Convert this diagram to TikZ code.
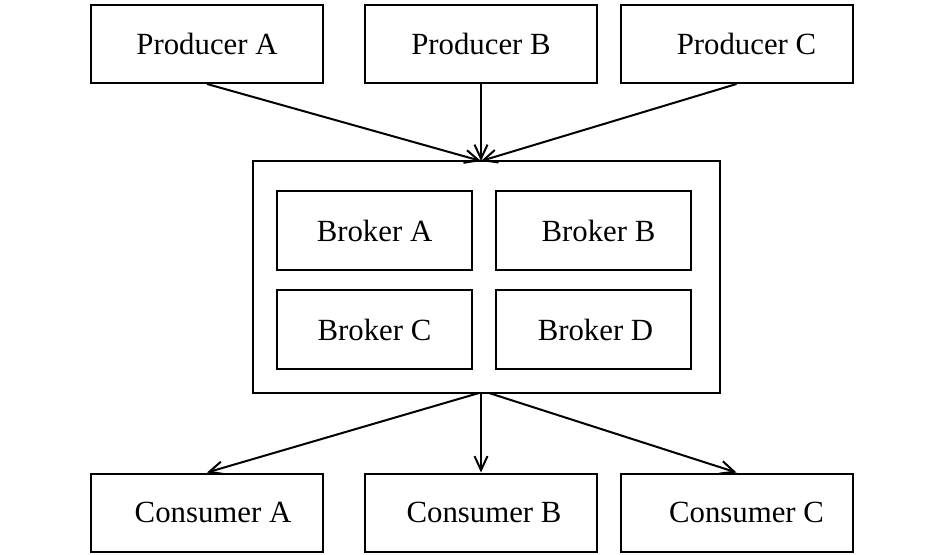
\documentclass[tikz,border=0pt]{standalone}
\usepackage{fontspec}
\setmainfont{Liberation Serif}
\usetikzlibrary{arrows.meta}

\begin{document}
\begin{tikzpicture}[x=0.5pt, y=-0.5pt, line width=1pt,
	font=\fontsize{15.4}{18}\selectfont,
	box/.style={draw, minimum width=116pt, minimum height=39pt, inner sep=0pt},
	broker/.style={draw, minimum width=97.5pt, minimum height=39.5pt, inner sep=0pt},
	conn/.style={-{Straight Barb[length=7pt, width=6.5pt]}}]
	\useasboundingbox (0,0) rectangle (945,555);
	% producers
	\node[box] (pa) at (207,44) {Producer A};
	\node[box] (pb) at (481,44) {Producer B};
	\node[box] (pc) at (736.5,44) {\hspace{10pt}Producer C};
	% broker cluster
	\node[draw, minimum width=233.5pt, minimum height=116pt, inner sep=0pt] (cluster) at (486.5,277) {};
	\node[broker] (ba) at (374.5,230.5) {Broker A};
	\node[broker] (bb) at (593.5,230.5) {\hspace{5pt}Broker B};
	\node[broker] (bc) at (374.5,329.5) {Broker C};
	\node[broker] (bd) at (593.5,329.5) {\hspace{2pt}Broker D};
	% consumers
	\node[box] (ca) at (207,512.5) {\hspace{6pt}Consumer A};
	\node[box] (cb) at (481,512.5) {\hspace{3pt}Consumer B};
	\node[box] (cc) at (736.5,512.5) {\hspace{10pt}Consumer C};
	% arrows in and out
	\coordinate (in) at (481,161);
	\coordinate (outl) at (479,393);
	\coordinate (outm) at (481,393);
	\coordinate (outr) at (489,393);
	\draw[conn] (pa.south) -- (in);
	\draw[conn] (pb.south) -- (in);
	\draw[conn] (pc.south) -- (in);
	\draw[conn] (outl) -- (ca.north);
	\draw[conn] (outm) -- (cb.north);
	\draw[conn] (outr) -- (cc.north);
\end{tikzpicture}
\end{document}
